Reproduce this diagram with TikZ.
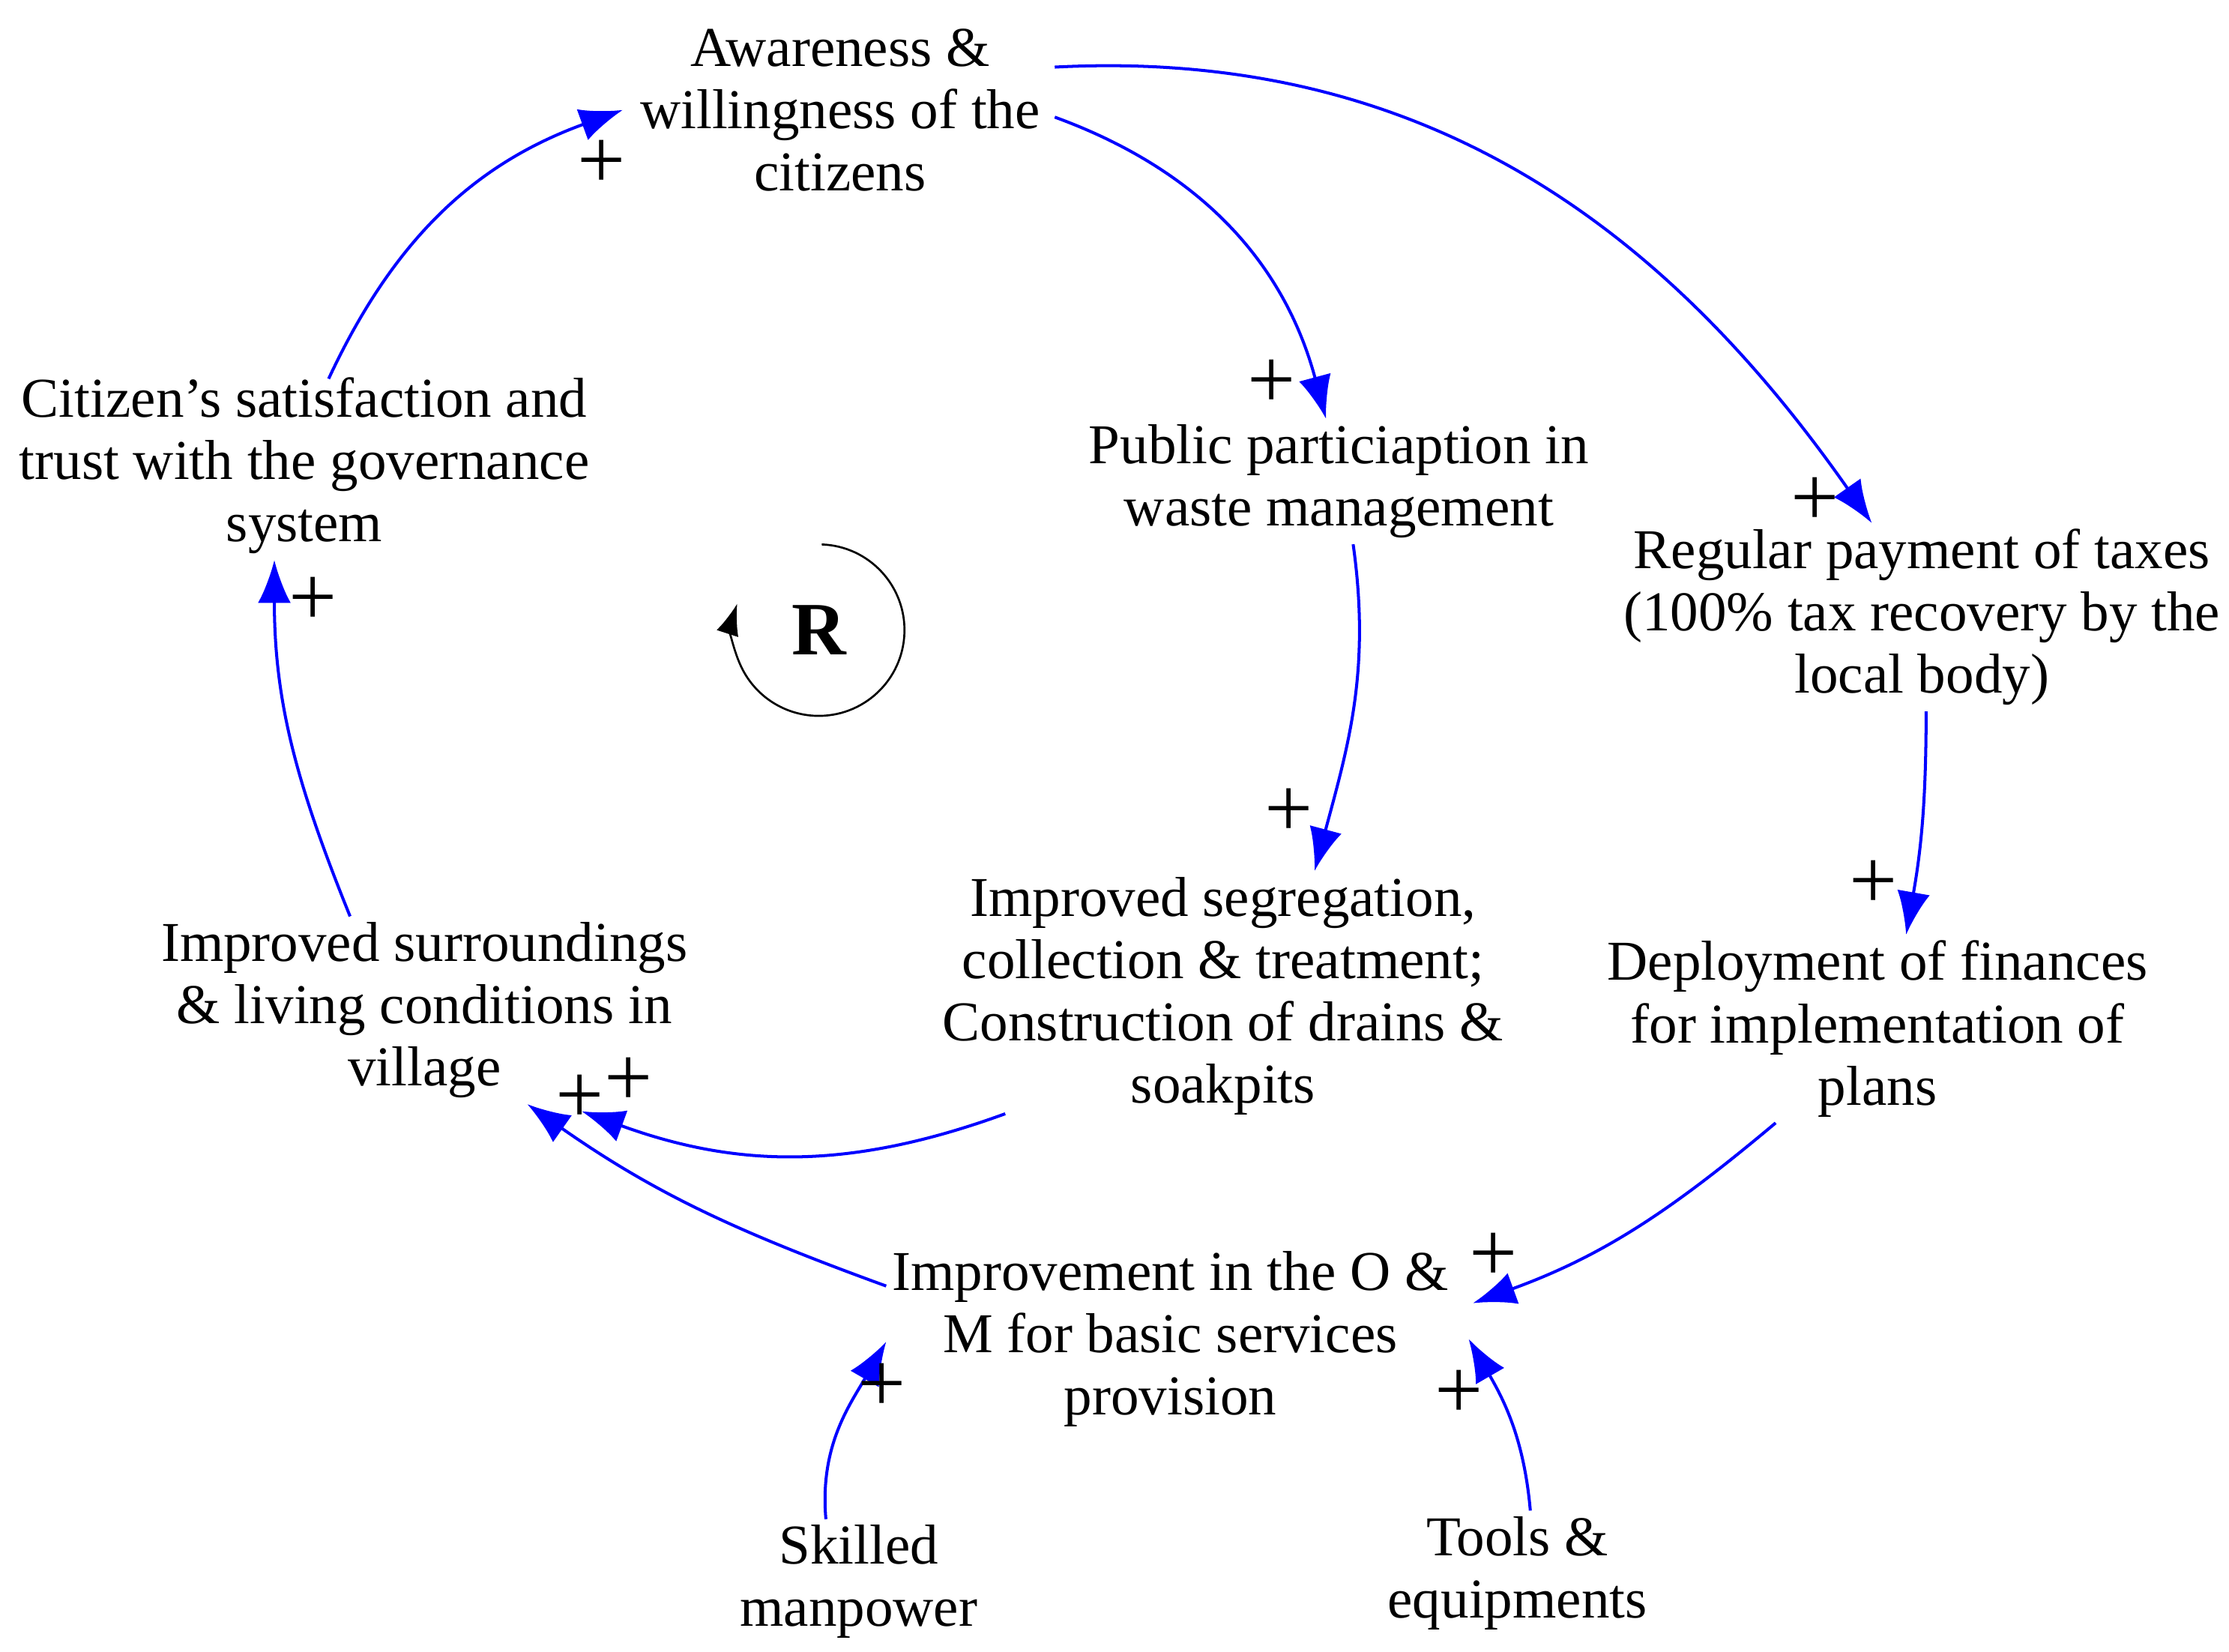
\documentclass[tikz,border=0pt]{standalone}
\usepackage{fontspec}
\setmainfont{Liberation Serif}
\usetikzlibrary{arrows.meta, positioning}

\begin{document}
\begin{tikzpicture}[
    var/.style={align=center, inner sep=1pt, font=\fontsize{11.2}{12.4}\selectfont},
    link/.style={-{Latex[length=3mm,width=2.3mm]}, blue, semithick},
    pol/.style={inner sep=0pt, font=\fontsize{17}{17}\selectfont}
]
\useasboundingbox (0,0) rectangle (15.6,11.56);

% Variables
\node[var] (aware) at (5.88,10.79) {Awareness \&\\willingness of the\\citizens};
\node[var] (public) at (9.37,8.19) {Public particiaption in\\waste management};
\node[var] (citizen) at (2.13,8.30) {Citizen{\char"27}s satisfaction and\\trust with the governance\\system};
\node[var] (taxes) at (13.45,7.24) {Regular payment of taxes\\(100\% tax recovery by the\\local body)};
\node[var] (seg) at (8.56,4.59) {Improved segregation,\\collection \& treatment;\\Construction of drains \&\\soakpits};
\node[var] (surround) at (2.97,4.49) {Improved surroundings\\\& living conditions in\\village};
\node[var] (deploy) at (13.14,4.36) {Deployment of finances\\for implementation of\\plans};
\node[var] (om) at (8.19,2.19) {Improvement in the O \&\\M for basic services\\provision};
\node[var] (skilled) at (6.01,0.49) {Skilled\\manpower};
\node[var] (tools) at (10.62,0.55) {Tools \&\\equipments};

% Loop marker
\node[font=\fontsize{15}{15}\selectfont\bfseries] (loop) at (5.73,7.15) {R};
\draw[-{Latex[length=2.2mm,width=1.6mm]}] (loop) ++(88:0.6) arc (88:-198:0.6);

% Links
\draw[link] ([xshift=0.17cm,yshift=-0.05cm]citizen.north) to[out=65,in=200] ([xshift=-0.08cm]aware.west);
\draw[link] ([xshift=0.06cm,yshift=-0.05cm]aware.east) to[out=-20,in=105] ([xshift=-0.09cm]public.north);
\draw[link] ([xshift=0.06cm,yshift=0.3cm]aware.east) to[out=3,in=125] ([xshift=-0.35cm]taxes.north);
\draw[link] ([xshift=0.1cm]public.south) to[out=-82,in=75] ([xshift=0.64cm]seg.north);
\draw[link] ([xshift=0.03cm]taxes.south) to[out=-90,in=80] ([xshift=0.2cm]deploy.north);
\draw[link] ([xshift=0.48cm,yshift=0.05cm]seg.south west) to[out=200,in=-20] ([xshift=1.1cm,yshift=-0.05cm]surround.south);
\draw[link] ([yshift=0.37cm]om.west) to[out=160,in=-35] ([xshift=0.72cm]surround.south);
\draw[link] ([xshift=1.22cm]deploy.south west) to[out=-140,in=20] ([xshift=0.13cm,yshift=0.25cm]om.east);
\draw[link] ([xshift=-0.23cm]skilled.north) to[out=95,in=-120] ([yshift=-0.02cm]om.west);
\draw[link] ([xshift=0.09cm]tools.north) to[out=95,in=-60] ([xshift=0.1cm,yshift=0cm]om.east);
\draw[link] ([xshift=-0.52cm]surround.north) to[out=112,in=-90] ([xshift=-0.21cm]citizen.south);

% Polarities
\node[pol] (p1) at (4.21,10.41) {+};
\node[pol] (p2) at (8.90,8.87) {+};
\node[pol] (p3) at (12.70,8.05) {+};
\node[pol] (p4) at (9.02,5.87) {+};
\node[pol] (p5) at (13.11,5.37) {+};
\node[pol] (p6) at (4.40,3.99) {+};
\node[pol] (p7) at (4.06,3.87) {+};
\node[pol] (p8) at (10.45,2.76) {+};
\node[pol] (p9) at (6.17,1.85) {+};
\node[pol] (p10) at (10.21,1.80) {+};
\node[pol] (p11) at (2.19,7.35) {+};
\end{tikzpicture}
\end{document}
